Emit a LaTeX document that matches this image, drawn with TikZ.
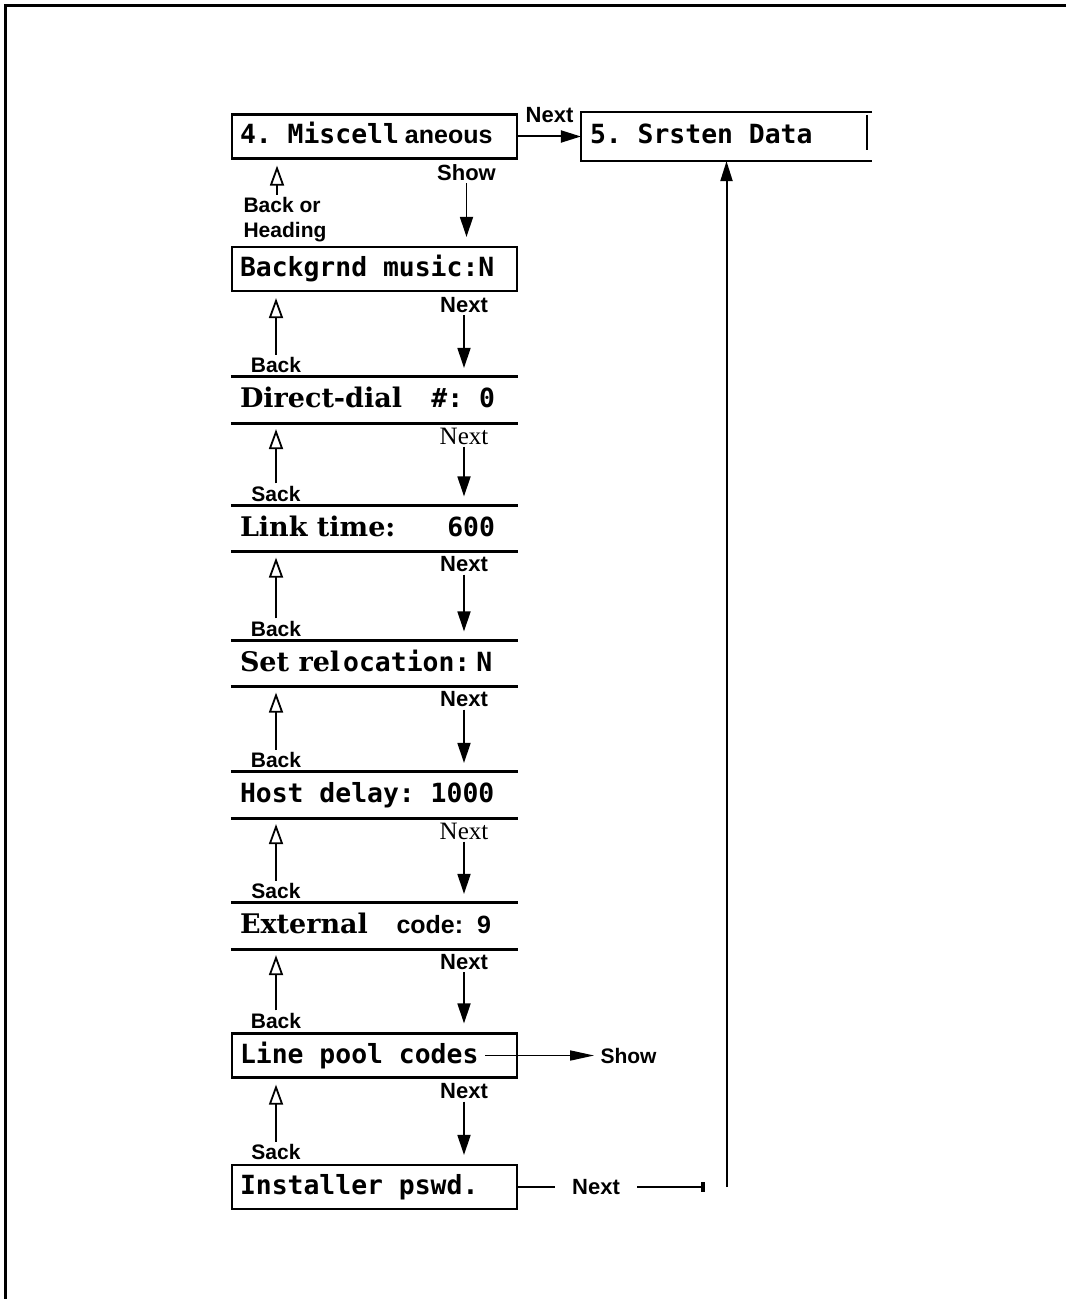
\documentclass[tikz,border=0pt]{standalone}
\usepackage{fontspec}
\setsansfont{Liberation Sans}
\setmonofont{DejaVu Sans Mono}
\newfontfamily\serfont{DejaVu Serif}
\newfontfamily\timesfont{Liberation Serif}
\usepackage{tikz}
\usetikzlibrary{positioning}
\usetikzlibrary{arrows.meta}

\newcommand{\serpart}[1]{{\serfont\bfseries\fontsize{13.5}{15}\selectfont #1}}
\newcommand{\sanspart}[1]{{\sffamily\bfseries\fontsize{12.5}{15}\selectfont #1}}

\tikzset{
  screen/.style={draw, line width=1.1pt, minimum height=22pt, text width=134.5pt,
    inner xsep=4pt, inner ysep=0pt, align=left, text height=10pt, text depth=2.5pt,
    font=\ttfamily\bfseries\fontsize{13.2}{15}\selectfont,
    execute at begin node={\spaceskip=0pt\xspaceskip=0pt}},
  bare/.style={screen, draw=none},
  rule/.style={line width=1.5pt},
  key/.style={inner sep=1pt, font=\sffamily\bfseries\fontsize{11}{12}\selectfont},
  keyrm/.style={inner sep=1pt, font=\timesfont\fontsize{12.5}{13}\selectfont},
  back/.style={inner sep=1pt, font=\sffamily\bfseries\fontsize{10.5}{12.5}\selectfont},
  up/.style={-{Triangle[open,length=10pt,width=7pt]}, line width=0.9pt, shorten >=3pt},
  down/.style={-{Triangle[length=10pt,width=6.5pt]}, line width=0.9pt, shorten >=4.5pt},
  jump/.style={-{Triangle[length=10pt,width=6pt]}, line width=1pt},
}

\begin{document}
\begin{tikzpicture}[x=0.5pt,y=-0.5pt,on grid]
   \useasboundingbox (0,0) rectangle (1066,1299);
   \draw[line width=1.5pt] (1066,6) -- (5,6) -- (5,1299);

   \node[screen] (misc) at (374.5,136.5) {4. Miscell\hspace{3pt}\sanspart{aneous}};
   \node[bare,minimum height=23.5pt,text width=136.5pt] (sys) [right=176pt of misc] {5. Srsten Data};
   \node[screen] (music) [below=66.25pt of misc] {Backgrnd music:N};
   \node[bare] (dial) [below=65.5pt of music] {\serpart{Direct-dial}\hfill\#: 0\kern7pt};
   \node[bare] (link) [below=64.25pt of dial] {\serpart{Link time:}\hfill 600\kern7pt};
   \node[bare] (reloc) [below=67.5pt of link] {\serpart{Set rel}\hspace{1.5pt}ocation:\hspace{3pt}N};
   \node[bare] (host) [below=65.75pt of reloc] {Host delay: 1000};
   \node[bare] (ext) [below=65.5pt of host] {\serpart{External}\hfill\sanspart{code:~~9}\kern9pt};
   \node[screen] (pool) [below=64.75pt of ext] {Line pool codes};
   \node[screen] (pswd) [below=65.75pt of pool] {Installer pswd.};

   \draw[line width=1.1pt] (sys.north east) -- (sys.north west) -- (sys.south west) -- (sys.south east);
   \draw[line width=0.8pt] ([xshift=-2.5pt,yshift=-1.5pt]sys.north east) -- ([xshift=-2.5pt,yshift=5.5pt]sys.south east);
   \draw[rule] (dial.north west) -- (dial.north east) (dial.south west) -- (dial.south east);
   \draw[rule] (link.north west) -- (link.north east) (link.south west) -- (link.south east);
   \draw[rule] (reloc.north west) -- (reloc.north east) (reloc.south west) -- (reloc.south east);
   \draw[rule] (host.north west) -- (host.north east) (host.south west) -- (host.south east);
   \draw[rule] (ext.north west) -- (ext.north east) (ext.south west) -- (ext.south east);

   \path[jump] (misc) edge node[key,above=5.5pt] {Next} (sys);

   \node[key] (show) [below right=18.25pt and 46pt of misc] {Show};
   \node[back,align=left] (head) [above left=24.75pt and 44.75pt of music] {Back or\\Heading};
   \coordinate (headup) at ([xshift=-4pt]head.north);
   \draw[up] (headup) -- (headup |- misc.south);
   \draw[down] (show) -- (show |- music.north);

   \node[key] (next_1) [below right=18pt and 44.75pt of music] {Next};
   \node[back] (back_1) [above left=17.5pt and 49.25pt of dial] {Back};
   \draw[up] (back_1) -- (back_1 |- music.south);
   \draw[down] (next_1) -- (next_1 |- dial.north);

   \node[keyrm] (next_2) [below right=18pt and 44.75pt of dial] {Next};
   \node[back] (back_2) [above left=17.5pt and 49.25pt of link] {Sack};
   \draw[up] (back_2) -- (back_2 |- dial.south);
   \draw[down] (next_2) -- (next_2 |- link.north);

   \node[key] (next_3) [below right=18pt and 44.75pt of link] {Next};
   \node[back] (back_3) [above left=17.5pt and 49.25pt of reloc] {Back};
   \draw[up] (back_3) -- (back_3 |- link.south);
   \draw[down] (next_3) -- (next_3 |- reloc.north);

   \node[key] (next_4) [below right=18pt and 44.75pt of reloc] {Next};
   \node[back] (back_4) [above left=17.5pt and 49.25pt of host] {Back};
   \draw[up] (back_4) -- (back_4 |- reloc.south);
   \draw[down] (next_4) -- (next_4 |- host.north);

   \node[keyrm] (next_5) [below right=18pt and 44.75pt of host] {Next};
   \node[back] (back_5) [above left=17.5pt and 49.25pt of ext] {Sack};
   \draw[up] (back_5) -- (back_5 |- host.south);
   \draw[down] (next_5) -- (next_5 |- ext.north);

   \node[key] (next_6) [below right=18pt and 44.75pt of ext] {Next};
   \node[back] (back_6) [above left=17.5pt and 49.25pt of pool] {Back};
   \draw[up] (back_6) -- (back_6 |- ext.south);
   \draw[down] (next_6) -- (next_6 |- pool.north);

   \node[key] (next_7) [below right=18pt and 44.75pt of pool] {Next};
   \node[back] (back_7) [above left=17.5pt and 49.25pt of pswd] {Sack};
   \draw[up] (back_7) -- (back_7 |- pool.south);
   \draw[down] (next_7) -- (next_7 |- pswd.north);

   \node[back] (pshow) [right=127pt of pool] {Show};
   \draw[-{Triangle[length=12pt,width=5pt]}, line width=0.8pt, shorten >=2pt]
      ([xshift=-16.5pt]pool.east) -- (pshow);

   \node[key] (pnext) [right=110.75pt of pswd] {Next};
   \coordinate (turn) at (sys.south |- pswd.east);
   \draw[line width=0.7pt, shorten >=7.5pt] (pswd) -- (pnext);
   \draw[line width=0.8pt, shorten <=7.5pt, shorten >=10.75pt, -{Rectangle[length=2pt,width=5pt]}] (pnext) -- (turn);
   \draw[jump] (turn) -- (sys);
\end{tikzpicture}
\end{document}
